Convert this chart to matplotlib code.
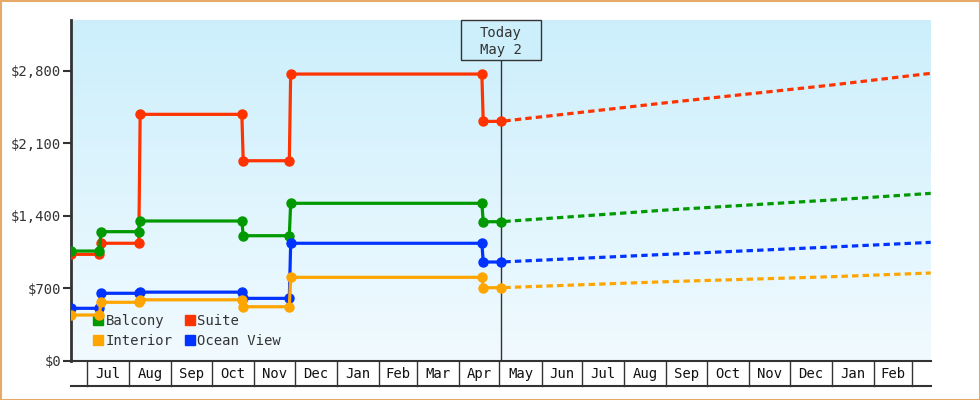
import datetime as dt
import matplotlib
matplotlib.use("Agg")
import matplotlib.pyplot as plt
import matplotlib.dates as mdates
import matplotlib.transforms as mtransforms
import numpy as np
from matplotlib.lines import Line2D
from matplotlib.patches import Rectangle

plt.rcParams['font.family'] = ['DejaVu Sans Mono']

D = dt.date

# sampled price history (each price change is a pair of consecutive days)
hist_dates = [D(2021, 6, 19), D(2021, 7, 10), D(2021, 7, 11), D(2021, 8, 8), D(2021, 8, 9),
              D(2021, 10, 23), D(2021, 10, 24), D(2021, 11, 27), D(2021, 11, 28),
              D(2022, 4, 18), D(2022, 4, 19), D(2022, 5, 2)]
balcony = [1059, 1059, 1246, 1246, 1349, 1349, 1207, 1207, 1520, 1520, 1342, 1342]
suite = [1027, 1027, 1134, 1134, 2379, 2379, 1931, 1931, 2768, 2768, 2311, 2311]
ocean_view = [506, 506, 651, 651, 662, 662, 602, 602, 1134, 1134, 953, 953]
interior = [441, 441, 564, 564, 588, 588, 521, 521, 805, 805, 705, 705]

# forecast from today on
fc_dates = [D(2022, 5, 2), D(2022, 9, 1), D(2023, 1, 1), D(2023, 3, 15)]
balcony_fc = [1342, 1455, 1552, 1616]
suite_fc = [2311, 2491, 2662, 2775]
ocean_view_fc = [953, 1027, 1098, 1143]
interior_fc = [705, 763, 811, 847]

today = D(2022, 5, 2)
x_start, x_end = D(2021, 6, 19), D(2023, 3, 15)
y_ticks = [0, 700, 1400, 2100, 2800]
y_labels = ['$0', '$700', '$1,400', '$2,100', '$2,800']

series = [
    ('Balcony', balcony, balcony_fc, '#009900'),
    ('Interior', interior, interior_fc, '#ffa500'),
    ('Suite', suite, suite_fc, '#ff3300'),
    ('Ocean View', ocean_view, ocean_view_fc, '#0033ff'),
]

text_col = '#333333'

fig = plt.figure(figsize=(9.8, 4.0), dpi=100)
ax = fig.add_axes([71 / 980, 1 - 360.7 / 400, 859.7 / 980, 340.7 / 400])
ax.set_xlim(mdates.date2num(x_start), mdates.date2num(x_end))
ax.set_ylim(0, 3290)

# gradient background
grad = np.linspace(0, 1, 256).reshape(-1, 1)
top = np.array([0.80, 0.937, 0.988])
bottom = np.array([0.945, 0.98, 1.0])
img = top + (bottom - top) * grad[:, :, None]
ax.imshow(img, extent=[0, 1, 0, 1], transform=ax.transAxes, aspect='auto', zorder=0)

# draw history + forecast (draw order: red, green, blue, orange on top)
order = ['Suite', 'Balcony', 'Ocean View', 'Interior']
handles = []
for name, hist, fc, color in series:
    z = 3 + order.index(name)
    ax.plot(hist_dates, hist, color=color, lw=2.3, marker='o', ms=6.5,
            mec=color, mfc=color, zorder=z, solid_joinstyle='miter')
    ax.plot(fc_dates, fc, color=color, lw=2.3, zorder=z,
            linestyle=(2.2, (2.0, 1.3)), dash_capstyle='butt')
    handles.append(Line2D([], [], ls='none', marker='s', ms=7.5, color=color, label=name))

# today marker and box
tx = mdates.date2num(today)
ax.axvline(tx, color=text_col, lw=1, zorder=2)
x0, x1 = ax.get_xlim()
tx_ax = (tx - x0) / (x1 - x0)
bw, bh = 80 / 859.7, 40.3 / 340.7
ax.add_patch(Rectangle((tx_ax - bw / 2, 1 - bh), bw, bh, transform=ax.transAxes,
                       facecolor='#cdeffc', edgecolor=text_col, lw=1, zorder=8, clip_on=False))
ax.text(tx_ax, 1 - bh / 2 - 0.004, 'Today\nMay 2', transform=ax.transAxes, ha='center',
        va='center', fontsize=10, color=text_col, linespacing=1.35, zorder=9)

# y axis
ax.set_yticks(y_ticks)
ax.set_yticklabels(y_labels)
ax.tick_params(axis='y', direction='out', length=6, width=1.5, color=text_col,
               labelcolor=text_col, labelsize=10, pad=1)
for s in ['top', 'right', 'bottom']:
    ax.spines[s].set_visible(False)
ax.spines['left'].set_color(text_col)
ax.spines['left'].set_linewidth(2)
ax.set_xticks([])

# month label row under the plot
row_h = 24.8 / 340.7
trans = mtransforms.blended_transform_factory(ax.transData, ax.transAxes)
ax.plot([0, 1], [0, 0], transform=ax.transAxes, color=text_col, lw=1.5, clip_on=False, zorder=10)
ax.plot([0, 1], [-row_h, -row_h], transform=ax.transAxes, color=text_col, lw=1.5,
        clip_on=False, zorder=10)
month_starts = [D(2021 + (6 + i) // 12, (6 + i) % 12 + 1, 1) for i in range(21)]
for i, ms in enumerate(month_starts):
    m = mdates.date2num(ms)
    ax.plot([m, m], [0, -row_h], transform=trans, color=text_col, lw=1, clip_on=False, zorder=10)
    if i + 1 < len(month_starts):
        nxt = mdates.date2num(month_starts[i + 1])
        ax.text((m + nxt) / 2, -row_h / 2 - 0.004, ms.strftime('%b'), transform=trans,
                ha='center', va='center', fontsize=10, color='#111111')

leg = ax.legend(handles=handles, ncol=2, loc='lower left',
                bbox_to_anchor=(20.5 / 859.7, 12.5 / 340.7), frameon=False,
                borderpad=0, borderaxespad=0, handlelength=1.0, handletextpad=0.05,
                columnspacing=0.7, labelspacing=0.45, prop={'size': 10})
for t in leg.get_texts():
    t.set_color(text_col)

# orange figure border
fig.patches.append(Rectangle((0.5 / 980, 0.5 / 400), 1 - 1 / 980, 1 - 1 / 400,
                             transform=fig.transFigure, fill=False,
                             edgecolor='#e6a96a', lw=1.5))

fig.savefig('out.png', dpi=100)
